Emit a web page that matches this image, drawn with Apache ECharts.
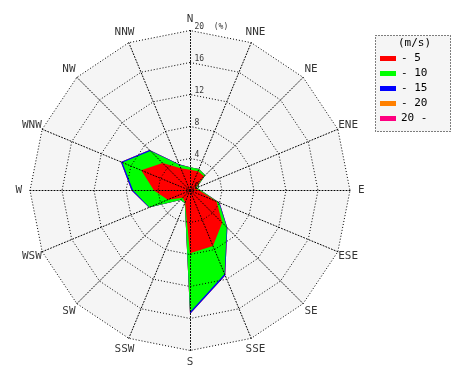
<!DOCTYPE html>
<html><head><meta charset="utf-8">
<script src="https://cdn.jsdelivr.net/npm/echarts@6/dist/echarts.min.js"></script>
<style>html,body{margin:0;padding:0;background:#fff}#c{width:470px;height:380px}</style>
</head><body><div id="c"></div>
<script>
// Wind directions, clockwise from north
const directions = ['N','NNE','NE','ENE','E','ESE','SE','SSE','S','SSW','SW','WSW','W','WNW','NW','NNW'];
// Wind speed classes (m/s)
const speedBins = ['- 5','- 10','- 15','- 20','20 -'];
// Frequency (%) per direction for each speed class
const freqUpTo5   = [2.6, 2.6, 2.5, 0.7, 1.2, 3.6, 5.7, 7.5, 7.85, 1.6, 1.3, 3.0, 4.5, 6.6, 4.85, 3.0];
const freqUpTo10  = [0.3, 0.3, 0.2, 0.2, 0.2, 0.3, 0.8, 3.8, 7.35, 0.1, 0.4, 2.5, 2.6, 2.55, 2.15, 0.5];
const freqUpTo15  = [0, 0, 0, 0, 0, 0.1, 0.1, 0.2, 0.25, 0, 0, 0.05, 0.2, 0.2, 0.15, 0.05];
const freqUpTo20  = [0, 0, 0, 0, 0, 0, 0, 0, 0, 0, 0, 0, 0, 0, 0, 0];
const freqOver20  = [0, 0, 0, 0, 0, 0, 0, 0, 0, 0, 0, 0, 0, 0, 0, 0];
// Radial ticks (%)
const radialTicks = [0, 4, 8, 12, 16, 20];

const binColors = ['#ff0000', '#00ff00', '#0000ff', '#ff8000', '#ff0080'];
const FONT = 'DejaVu Sans Mono';
const CX = 190, CY = 190.5, R = 160;
const LABEL_R = 21.4;

const bins = [freqUpTo5, freqUpTo10, freqUpTo15, freqUpTo20, freqOver20];
const cumulative = [];
bins.forEach((arr, k) => {
  cumulative.push(arr.map((v, i) => v + (k > 0 ? cumulative[k - 1][i] : 0)));
});
// radar indicators run counterclockwise
const ccw = directions.map((d, i) => (16 - i) % 16);
const rmax = radialTicks[radialTicks.length - 1];
const indicator = ccw.map(i => ({ name: directions[i], min: 0, max: rmax }));

const radarData = [];
for (let k = bins.length - 1; k >= 0; k--) {
  radarData.push({
    name: speedBins[k],
    value: ccw.map(i => cumulative[k][i]),
    itemStyle: { color: binColors[k] },
    areaStyle: { color: binColors[k], opacity: 1 },
    lineStyle: { width: 0, color: binColors[k] },
    symbol: 'none'
  });
}

const chart = echarts.init(document.getElementById('c'), null, { renderer: 'canvas' });
const dotted = [1, 2];
chart.setOption({
  animation: false,
  backgroundColor: '#ffffff',
  radar: [
    {
      center: [CX, CY], radius: R, startAngle: 90, shape: 'polygon',
      splitNumber: radialTicks.length - 1, indicator: indicator, z: 0,
      axisName: { show: false },
      splitArea: { show: true, areaStyle: { color: ['#f5f5f5'] } },
      splitLine: { show: false }, axisLine: { show: false }
    },
    {
      center: [CX, CY], radius: R, startAngle: 90, shape: 'polygon',
      splitNumber: radialTicks.length - 1, indicator: indicator, z: 3,
      axisName: { show: false },
      splitArea: { show: false },
      splitLine: { show: true, lineStyle: { color: '#000', width: 1, type: dotted } },
      axisLine: { show: true, lineStyle: { color: '#000', width: 1, type: dotted } }
    }
  ],
  polar: { center: [CX, CY], radius: R },
  angleAxis: {
    type: 'category', data: directions, startAngle: 90 + 180 / directions.length, clockwise: true,
    axisLine: { show: false }, axisTick: { show: false }, axisLabel: { show: false },
    splitLine: { show: false }, splitArea: { show: false }
  },
  radiusAxis: {
    type: 'value', min: radialTicks[0], max: rmax, interval: radialTicks[1] - radialTicks[0],
    axisLine: { show: false }, axisTick: { show: false }, splitLine: { show: false },
    axisLabel: { show: false }
  },
  legend: {
    orient: 'vertical', left: 375, top: 48, padding: [5, 5, 5, 5],
    itemWidth: 16, itemHeight: 5, itemGap: 4, icon: 'rect', selectedMode: false,
    data: speedBins,
    textStyle: { fontFamily: FONT, fontSize: 11, color: '#000' }
  },
  graphic: [
    { type: 'rect', left: 375, top: 35, shape: { width: 75, height: 96 }, z: -1,
      style: { fill: '#f5f5f5', stroke: '#000', lineWidth: 1, lineDash: [1, 2] } },
    { type: 'text', left: 398, top: 38, z: 10,
      style: { text: '(m/s)', font: '11px ' + FONT, fill: '#000' } }
  ],
  series: [
    {
      type: 'radar', radarIndex: 0, z: 2, silent: true,
      data: radarData
    },
    {
      // compass direction labels
      type: 'scatter', coordinateSystem: 'polar', z: 5, silent: true, clip: false,
      symbolSize: 1, itemStyle: { color: 'rgba(0,0,0,0)' },
      data: directions.map(d => [LABEL_R, d]),
      label: { show: true, position: 'inside', formatter: p => p.value[1],
        fontFamily: FONT, fontSize: 11, color: '#000' }
    },
    {
      // radial tick labels along the north spoke
      type: 'scatter', coordinateSystem: 'polar', z: 5, silent: true, clip: false,
      symbolSize: 1, itemStyle: { color: 'rgba(0,0,0,0)' },
      data: radialTicks.map(t => [t, directions[0]]),
      label: { show: true, position: 'right', distance: 4, offset: [0, -4],
        formatter: p => (p.value[0] === rmax ? p.value[0] + '  (%)' : String(p.value[0])),
        fontFamily: FONT, fontSize: 8, color: '#000' }
    }
  ]
});
</script></body></html>
